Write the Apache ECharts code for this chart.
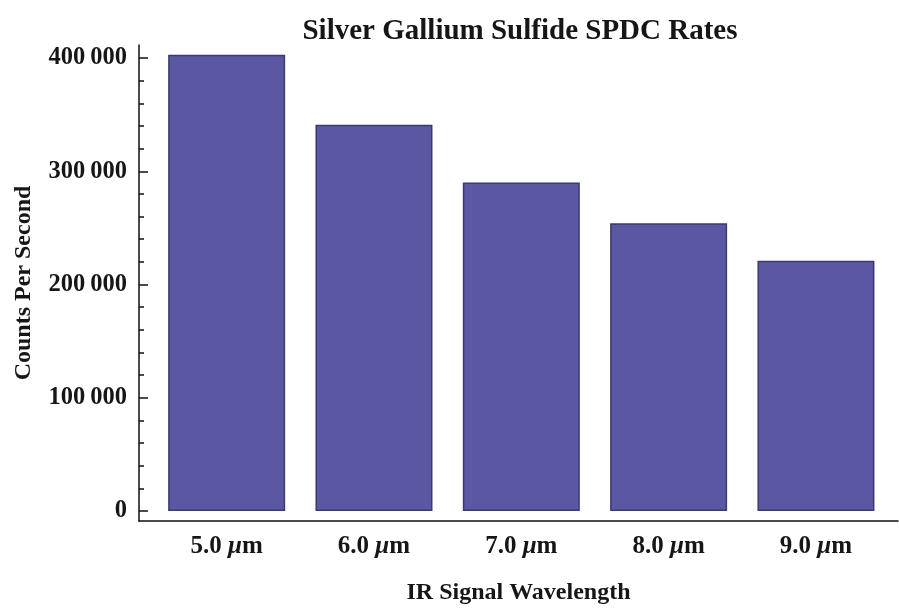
<!DOCTYPE html>
<html>
<head>
<meta charset="utf-8">
<script src="https://cdn.jsdelivr.net/npm/echarts@6/dist/echarts.min.js"></script>
<style>
  html, body { margin: 0; padding: 0; background: #fff; }
  #chart { width: 899px; height: 610px; }
</style>
</head>
<body>
<div id="chart"></div>
<script>
// data
const categories = ['5.0 μm', '6.0 μm', '7.0 μm', '8.0 μm', '9.0 μm']
const rates = [403000, 341000, 290000, 254000, 221000]
const majorTicks = [0, 100000, 200000, 300000, 400000]
const minorTicks = []
for (let v = 20000; v < 410000; v += 20000) {
  if (v % 100000 !== 0) minorTicks.push(v)
}

const font = 'Liberation Serif, Times New Roman, serif'
const ink = '#161616'

const yRange = { min: -8800, max: 411500 }

function fmtNum (v) {
  const s = String(v)
  if (s.length <= 3) return s
  return s.slice(0, s.length - 3) + '\u2009' + s.slice(-3)
}

const chart = echarts.init(document.getElementById('chart'))
chart.setOption({
  backgroundColor: '#fff',
  animation: false,
  title: {
    text: 'Silver Gallium Sulfide SPDC Rates',
    left: 515,
    textAlign: 'center',
    top: 12,
    textStyle: { fontFamily: font, fontWeight: 'bold', fontSize: 29, color: ink }
  },
  grid: { left: 139, right: 1, top: 45, bottom: 89 },
  xAxis: {
    type: 'value',
    min: -0.595,
    max: 4.557,
    name: 'IR Signal Wavelength',
    nameLocation: 'middle',
    nameGap: 60,
    nameTextStyle: { fontFamily: font, fontWeight: 'bold', fontSize: 24, color: ink },
    axisLine: { onZero: false, lineStyle: { color: '#111', width: 1.5 } },
    axisTick: { show: false },
    splitLine: { show: false },
    axisLabel: {
      customValues: categories.map((c, i) => i),
      margin: 13,
      fontFamily: font,
      fontWeight: 'bold',
      fontSize: 25,
      color: ink,
      formatter: v => categories[v].replace('μ', '{mu|μ}'),
      rich: {
        mu: { fontFamily: font, fontStyle: 'italic', fontWeight: 'bold', fontSize: 25, color: ink }
      }
    }
  },
  yAxis: [
    {
      type: 'value',
      position: 'left',
      min: yRange.min,
      max: yRange.max,
      name: 'Counts Per Second',
      nameLocation: 'middle',
      nameGap: 103,
      nameTextStyle: { fontFamily: font, fontWeight: 'bold', fontSize: 24, color: ink },
      axisLine: { show: true, onZero: false, lineStyle: { color: '#111', width: 1.5 } },
      axisTick: { show: true, inside: true, length: 9, customValues: majorTicks, lineStyle: { color: '#111', width: 1.5 } },
      splitLine: { show: false },
      axisLabel: {
        customValues: majorTicks,
        margin: 12,
        fontFamily: font,
        fontWeight: 'bold',
        fontSize: 24.5,
        color: ink,
        formatter: fmtNum
      }
    },
    {
      type: 'value',
      position: 'left',
      min: yRange.min,
      max: yRange.max,
      axisLine: { show: true, onZero: false, lineStyle: { color: 'rgba(0,0,0,0)', width: 0 } },
      axisTick: { show: true, inside: true, length: 5, customValues: minorTicks, lineStyle: { color: '#111', width: 1.5 } },
      splitLine: { show: false },
      axisLabel: { show: false }
    }
  ],
  series: [{
    type: 'bar',
    data: categories.map((c, i) => [i, rates[i]]),
    barWidth: 117,
    itemStyle: { color: '#5b58a3', borderColor: '#3b3970', borderWidth: 1.5 }
  }]
})
</script>
</body>
</html>
